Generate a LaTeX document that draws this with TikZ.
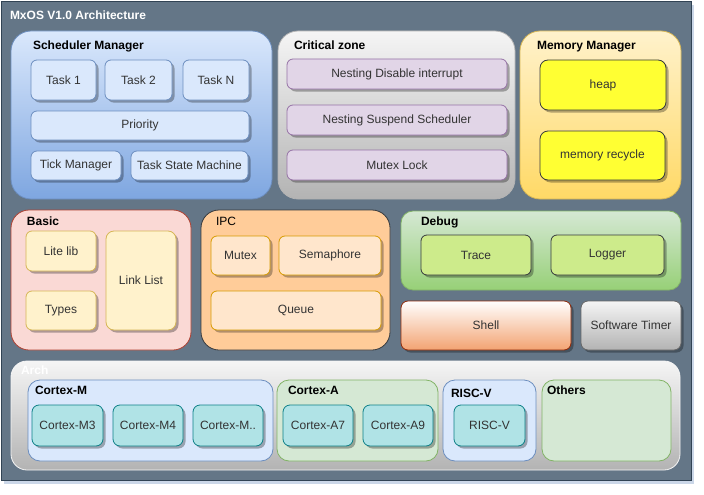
\documentclass[tikz,border=0pt]{standalone}
\usepackage{fontspec}
\setmainfont{Liberation Sans}
\usetikzlibrary{shadows}
\definecolor{frame}{HTML}{647687}
\definecolor{framed}{HTML}{314354}
\definecolor{txt}{HTML}{333333}
\definecolor{blueL}{HTML}{DAE8FC}
\definecolor{blueD}{HTML}{7EA6E0}
\definecolor{blueS}{HTML}{6C8EBF}
\definecolor{grayL}{HTML}{F5F5F5}
\definecolor{grayD}{HTML}{B3B3B3}
\definecolor{grayS}{HTML}{666666}
\definecolor{purL}{HTML}{E1D5E7}
\definecolor{purS}{HTML}{9673A6}
\definecolor{yelL}{HTML}{FFF2CC}
\definecolor{yelD}{HTML}{FFD966}
\definecolor{yelS}{HTML}{D6B656}
\definecolor{yelB}{HTML}{FFFF33}
\definecolor{darkS}{HTML}{36393D}
\definecolor{redL}{HTML}{FAD9D5}
\definecolor{redS}{HTML}{AE4132}
\definecolor{orgC}{HTML}{FFCC99}
\definecolor{orgL}{HTML}{FFE6CC}
\definecolor{orgS}{HTML}{D79B00}
\definecolor{grnL}{HTML}{D5E8D4}
\definecolor{grnD}{HTML}{97D077}
\definecolor{grnS}{HTML}{82B366}
\definecolor{lime}{HTML}{CDEB8B}
\definecolor{shellD}{HTML}{F3A372}
\definecolor{shellS}{HTML}{8E2A0A}
\definecolor{tealL}{HTML}{B0E3E6}
\definecolor{tealS}{HTML}{0E8088}
\newcommand\bx[7]{\node[#6, anchor=north west, minimum width={#4pt-#2pt}, minimum height={#5pt-#3pt}] (#1) at (#2,#3) {#7};}
\tikzset{
  every node/.style={inner sep=0pt, outer sep=0pt, font=\fontsize{12}{14}\selectfont},
  box/.style={rectangle, rounded corners=6pt, line width=0.8pt, text=txt},
  cont/.style={rectangle, rounded corners=#1, line width=0.8pt},
  cont/.default=18pt,
  sh/.style={drop shadow={shadow xshift=2.5pt, shadow yshift=-2.5pt, opacity=0.3, fill=black}},
  ttl/.style={anchor=base west, font=\fontsize{12}{14}\selectfont\bfseries, text=black},
  blue/.style={box, sh, fill=blueL, draw=blueS},
  purp/.style={box, sh, fill=purL, draw=purS},
  yelb/.style={box, sh, fill=yelB, draw=darkS},
  yell/.style={box, sh, fill=yelL, draw=yelS},
  oran/.style={box, sh, fill=orgL, draw=orgS},
  limeb/.style={box, sh, fill=lime, draw=darkS},
  teal/.style={box, sh, rounded corners=7pt, fill=tealL, draw=tealS},
}
\begin{document}
\begin{tikzpicture}[x=1pt, y=-1pt]
\useasboundingbox (0,0) rectangle (704,495);
\fill[white] (0,0) rectangle (704,495);
% outer frame
\bx{frame}{1}{1}{691}{480}{rectangle, fill=frame, draw=framed, line width=0.8pt, drop shadow={shadow xshift=3pt, shadow yshift=-4pt, opacity=0.35, fill=blueS}}{}
\node[ttl, text=white] (ttlmain) at (10,20) {MxOS V1.0 Architecture};

% Scheduler Manager
\bx{sched}{11}{31}{272}{199}{cont=20pt, top color=blueL, bottom color=blueD, draw=blueS}{}
\node[ttl] (schedt) at (33,50) {Scheduler Manager};
\bx{task1}{31}{60}{96}{100}{blue}{Task 1}
\bx{task2}{105}{60}{172}{100}{blue}{Task 2}
\bx{taskn}{183}{60}{249}{100}{blue}{Task N}
\bx{prio}{31}{111}{249}{140}{blue}{Priority}
\bx{tick}{31}{151}{121}{180}{blue}{Tick Manager}
\bx{tsm}{131}{151}{248}{180}{blue}{Task State Machine}

% Critical zone
\bx{crit}{278}{31}{515}{199}{cont=20pt, top color=grayL, bottom color=grayD, draw=grayD}{}
\node[ttl] (critt) at (294,50) {Critical zone};
\bx{ndi}{287}{59}{507}{89}{purp}{Nesting Disable interrupt}
\bx{nss}{287}{105}{507}{135}{purp}{Nesting Suspend Scheduler}
\bx{mlock}{287}{150}{507}{180}{purp}{Mutex Lock}

% Memory Manager
\bx{mem}{520}{31}{681}{199}{cont=20pt, top color=yelL, bottom color=yelD, draw=yelS}{}
\node[ttl] (memt) at (537,49) {Memory Manager};
\bx{heap}{540}{60}{666}{110}{yelb, rounded corners=8pt}{heap}
\bx{recyc}{540}{131}{665}{180}{yelb, rounded corners=8pt}{memory recycle}

% Basic
\bx{basic}{11}{210}{191}{350}{cont=18pt, fill=redL, draw=redS}{}
\node[ttl] (basict) at (27,225) {Basic};
\bx{lite}{26}{231}{96}{271}{yell}{Lite lib}
\bx{types}{26}{291}{96}{330}{yell}{Types}
\bx{link}{106}{231}{176}{330}{yell, rounded corners=8pt}{Link List}

% IPC
\bx{ipc}{201}{210}{390}{350}{cont=18pt, fill=orgC, draw=darkS}{}
\node[ttl, font=\fontsize{12}{14}\selectfont] (ipct) at (216,225) {IPC};
\bx{mutex}{211}{236}{270}{275}{oran}{Mutex}
\bx{sema}{279}{236}{381}{275}{oran}{Semaphore}
\bx{queue}{211}{291}{381}{330}{oran}{Queue}

% Debug
\bx{debug}{401}{211}{681}{290}{cont=12pt, top color=grnL, bottom color=grnD, draw=grnS}{}
\node[ttl] (debugt) at (421,225) {Debug};
\bx{trace}{421}{235}{531}{275}{limeb}{Trace}
\bx{logger}{551}{235}{664}{275}{limeb}{Logger}

% Shell / Software Timer
\bx{shell}{401}{301}{571}{350}{box, sh, rounded corners=7pt, top color=white, bottom color=shellD, draw=shellS}{Shell}
\bx{swt}{581}{301}{681}{350}{box, sh, rounded corners=7pt, top color=grayL, bottom color=grayD, draw=grayS}{Software Timer}

% Arch
\bx{arch}{11}{361}{680}{470}{cont=16pt, top color=grayL, bottom color=grayD, draw=grayL}{}
\node[ttl, text=white] (archt) at (21,374) {Arch};
\bx{cm}{28}{380}{273}{461}{cont=12pt, fill=blueL, draw=blueS}{}
\node[ttl] (cmt) at (35,394) {Cortex-M};
\bx{cm3}{32}{405}{103}{446}{teal}{Cortex-M3}
\bx{cm4}{113}{405}{183}{446}{teal}{Cortex-M4}
\bx{cmx}{193}{405}{263}{446}{teal}{Cortex-M..}
\bx{ca}{277}{380}{438}{461}{cont=12pt, fill=grnL, draw=grnS}{}
\node[ttl] (cat) at (288,394) {Cortex-A};
\bx{ca7}{283}{405}{353}{446}{teal}{Cortex-A7}
\bx{ca9}{363}{405}{433}{446}{teal}{Cortex-A9}
\bx{rv}{443}{380}{536}{461}{cont=12pt, fill=blueL, draw=blueS}{}
\node[ttl] (rvt) at (451,397) {RISC-V};
\bx{rvi}{454}{405}{525}{446}{teal}{RISC-V}
\bx{oth}{542}{380}{671}{461}{cont=12pt, fill=grnL, draw=grnS}{}
\node[ttl] (otht) at (547,394) {Others};
\end{tikzpicture}
\end{document}
